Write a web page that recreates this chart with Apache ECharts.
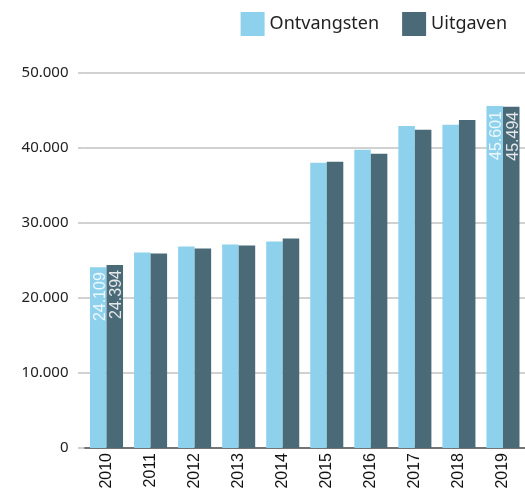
<!DOCTYPE html>
<html>
<head>
<meta charset="utf-8">
<script src="https://cdn.jsdelivr.net/npm/echarts@6/dist/echarts.min.js"></script>
<style>
  html, body { margin: 0; padding: 0; background: #fff; }
  #chart { width: 525px; height: 492px; }
</style>
</head>
<body>
<div id="chart"></div>
<script>
// Jaren
const years = ['2010', '2011', '2012', '2013', '2014', '2015', '2016', '2017', '2018', '2019'];
// Ontvangsten en uitgaven per jaar
const ontvangsten = [24109, 26060, 26860, 27130, 27530, 38030, 39760, 42950, 43090, 45601];
const uitgaven    = [24394, 25930, 26600, 27000, 27930, 38170, 39230, 42420, 43750, 45494];
// Jaren waarvan de waarde in de staaf staat
const labelledYears = ['2010', '2019'];
const yTicks = [0, 10000, 20000, 30000, 40000, 50000];

const fmt = v => String(v).replace(/\B(?=(\d{3})+(?!\d))/g, '.');

function withLabels(values, color) {
  return values.map((v, i) => labelledYears.includes(years[i])
    ? { value: v, label: { show: true, color: color } }
    : v);
}

const labelStyle = {
  show: false,
  position: 'insideTop',
  rotate: 90,
  align: 'right',
  verticalAlign: 'middle',
  offset: [0, 2],
  fontFamily: 'Liberation Sans',
  fontSize: 16,
  formatter: p => fmt(p.value)
};

const chart = echarts.init(document.getElementById('chart'), null, { renderer: 'canvas' });
chart.setOption({
  animation: false,
  legend: {
    right: 13,
    top: 7,
    icon: 'rect',
    itemWidth: 24,
    itemHeight: 24,
    itemGap: 23,
    textStyle: { fontFamily: 'Noto Sans', fontSize: 18, color: '#222' },
    data: ['Ontvangsten', 'Uitgaven']
  },
  grid: { left: 84.5, right: -3.5, top: 73, bottom: 44, containLabel: false },
  xAxis: {
    type: 'category',
    data: years,
    axisLine: { lineStyle: { color: '#555', width: 1.5 } },
    axisTick: { show: false },
    axisLabel: {
      rotate: 90,
      margin: 5,
      fontFamily: 'Liberation Sans',
      fontSize: 16,
      color: '#111'
    }
  },
  yAxis: {
    type: 'value',
    min: yTicks[0],
    max: yTicks[yTicks.length - 1],
    interval: 10000,
    axisLine: { show: false },
    axisTick: { show: true, length: 6.5, lineStyle: { color: '#c2c2c2', width: 1.5 } },
    splitLine: { lineStyle: { color: '#c2c2c2', width: 1.5 } },
    axisLabel: {
      margin: 16,
      fontFamily: 'Noto Sans',
      fontSize: 15,
      color: '#222',
      formatter: v => fmt(v)
    }
  },
  series: [
    {
      name: 'Ontvangsten',
      type: 'bar',
      barGap: 0,
      barCategoryGap: '25%',
      itemStyle: { color: '#8ed1ec' },
      label: labelStyle,
      data: withLabels(ontvangsten, '#eef8fc')
    },
    {
      name: 'Uitgaven',
      type: 'bar',
      barGap: 0,
      barCategoryGap: '25%',
      itemStyle: { color: '#4a6a78' },
      label: labelStyle,
      data: withLabels(uitgaven, '#e4e8ea')
    }
  ]
});
</script>
</body>
</html>
